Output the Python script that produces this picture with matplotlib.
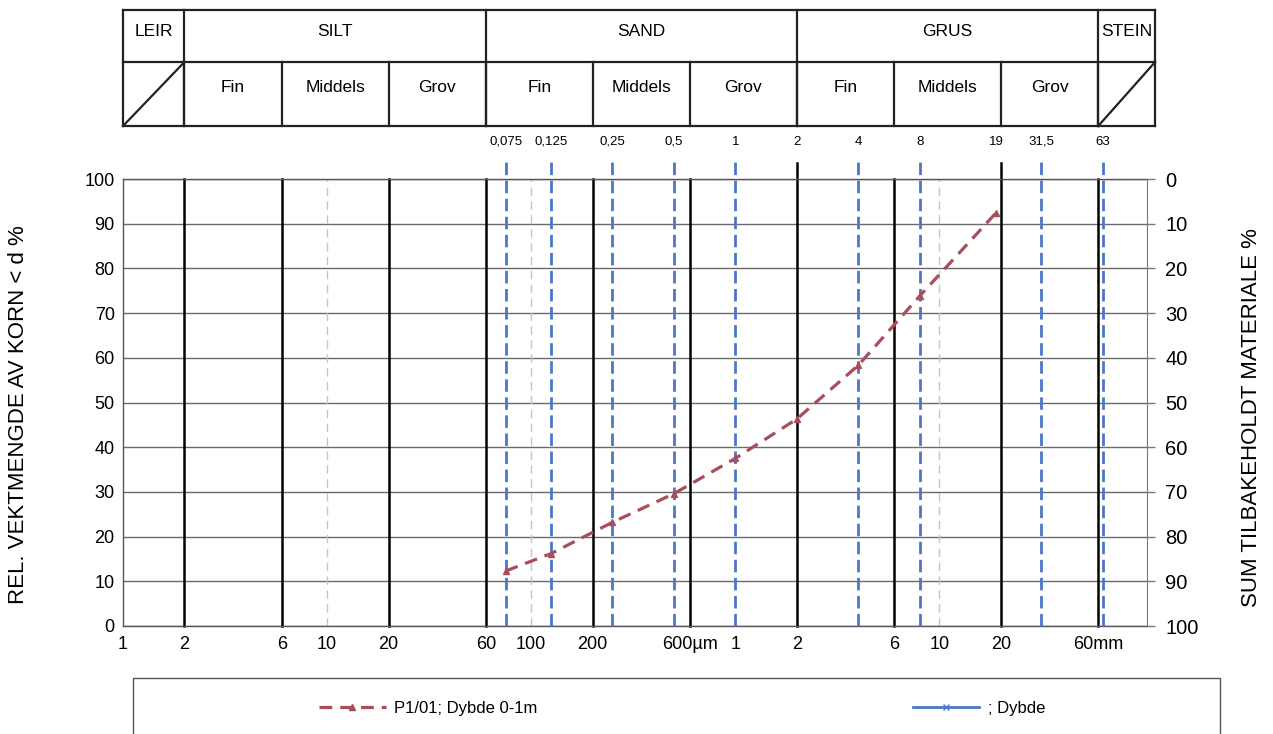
import matplotlib
matplotlib.use('Agg')
import matplotlib.pyplot as plt
from matplotlib.patches import Rectangle
import numpy as np

plt.rcParams['font.family'] = ['Liberation Sans', 'DejaVu Sans']

# sieve sizes in µm and passing percentage for P1/01
sieve_um = [75, 125, 250, 500, 1000, 2000, 4000, 8000, 19000]
passing = [12.3, 16.2, 23.2, 29.6, 37.5, 46.3, 58.3, 73.8, 92.5]

# blue marker lines (sieve sizes) and their top labels
sieve_lines = [75, 125, 250, 500, 1000, 4000, 8000, 31500, 63000]
top_label_pos = [75, 125, 250, 500, 1000, 2000, 4000, 8000, 19000, 31500, 63000]
top_label_txt = ['0,075', '0,125', '0,25', '0,5', '1', '2', '4', '8', '19', '31,5', '63']

# main grid lines
black_lines = [2, 6, 20, 60, 200, 600, 2000, 6000, 20000, 60000]
tall_lines = [2000, 20000]
grey_lines = [10, 100, 10000]

x_ticks = [1, 2, 6, 10, 20, 60, 100, 200, 600, 1000, 2000, 6000, 10000, 20000, 60000]
x_labels = ['1', '2', '6', '10', '20', '60', '100', '200', '600µm',
            '1', '2', '6', '10', '20', '60mm']

# classification table
main_classes = ['LEIR', 'SILT', 'SAND', 'GRUS', 'STEIN']
main_bounds = [1, 2, 60, 2000, 60000, 114000]
sub_classes = ['Fin', 'Middels', 'Grov'] * 3
sub_bounds = [2, 6, 20, 60, 200, 600, 2000, 6000, 20000, 60000]

W, H = 1273, 734
fig = plt.figure(figsize=(W / 100, H / 100), dpi=100)

xl, xr = 123, 1147
ax = fig.add_axes([xl / W, 1 - 626 / H, (xr - xl) / W, (626 - 179) / H])
ax.set_xscale('log')
ax.set_xlim(1, 1.04e5)
ax.set_ylim(0, 100)
ppu = (626 - 179) / 100.0

red = '#A94D5A'
blue = '#4A78C8'

ax.set_yticks(range(0, 101, 10))
ax.yaxis.grid(True, color='#6a6a6a', lw=1)
ax.set_axisbelow(True)
ax.tick_params(axis='y', length=0, labelsize=13, pad=6)
ax.set_xticks(x_ticks)
ax.set_xticklabels(x_labels)
ax.xaxis.set_minor_locator(matplotlib.ticker.NullLocator())
ax.tick_params(axis='x', length=0, labelsize=13, pad=7)
for s in ['left', 'bottom', 'top']:
    ax.spines[s].set_color('#555555')
    ax.spines[s].set_linewidth(1)
ax.spines['right'].set_visible(False)

for x in grey_lines:
    ax.plot([x, x], [0, 100], color='#c4c4c4', lw=1, dashes=(6, 4), zorder=1)
for x in black_lines:
    top = (626 - 163) / ppu if x in tall_lines else 100
    ax.plot([x, x], [0, top], color='black', lw=1.8, zorder=2, clip_on=False)
for x in sieve_lines:
    ax.plot([x, x], [0, (626 - 160) / ppu], color=blue, lw=2, dashes=(4.5, 2),
            zorder=3, clip_on=False)
for x, t in zip(top_label_pos, top_label_txt):
    ax.text(x, (626 - 142) / ppu, t, ha='center', va='center', fontsize=9.5)

ax.plot(sieve_um, passing, color=red, lw=2.3, dashes=(4, 2.5), marker='^', ms=5,
        zorder=4, label='P1/01; Dybde 0-1m')
ax.plot([], [], color=blue, lw=2, marker='x', ms=5, label='; Dybde')

ax.set_ylabel('REL. VEKTMENGDE AV KORN < d %', fontsize=16)
ax.yaxis.set_label_coords((29 - xl) / (xr - xl), (626 - 415) / 447)

ax2 = ax.twinx()
ax2.set_ylim(100, 0)
ax2.set_yticks(range(0, 101, 10))
ax2.tick_params(axis='y', length=6, width=1, color='#777777', labelsize=14.5, pad=7)
for s in ['left', 'bottom', 'top']:
    ax2.spines[s].set_visible(False)
ax2.spines['right'].set_color('#777777')
ax2.set_ylabel('SUM TILBAKEHOLDT MATERIALE %', fontsize=16)
ax2.yaxis.set_label_coords((1241 - xl) / (xr - xl), (626 - 418) / 447)

# classification table above the chart
axt = fig.add_axes([xl / W, 1 - 126 / H, (xr - xl) / W, 116 / H])
axt.set_xscale('log')
axt.set_xlim(1, 1.04e5)
axt.set_ylim(0, 116)
axt.axis('off')
kw = dict(color='#222222', lw=1.6, clip_on=False)
x0, x1 = main_bounds[0], main_bounds[-1]
axt.plot([x0, x1], [116, 116], **kw)
axt.plot([x0, x1], [64, 64], **kw)
axt.plot([x0, x1], [0, 0], **kw)
for b in main_bounds:
    axt.plot([b, b], [0, 116], **kw)
for b in sub_bounds:
    axt.plot([b, b], [0, 64], **kw)
axt.plot([1, 2], [0, 64], **kw)
axt.plot([60000, 114000], [0, 64], **kw)
for i, name in enumerate(main_classes):
    cx = np.sqrt(main_bounds[i] * main_bounds[i + 1])
    axt.text(cx, 94, name, ha='center', va='center', fontsize=12.5)
for i, name in enumerate(sub_classes):
    cx = np.sqrt(sub_bounds[i] * sub_bounds[i + 1])
    axt.text(cx, 38, name, ha='center', va='center', fontsize=12.5)

# legend box
fig.add_artist(Rectangle((133 / W, -0.02), (1220 - 133) / W, 1 - 678 / H + 0.02,
                         transform=fig.transFigure, fill=False, ec='#555555', lw=1))
fig.legend(loc='center', bbox_to_anchor=(682 / W, 1 - 708 / H), ncol=2, frameon=False,
           handlelength=4, handletextpad=0.5, columnspacing=22.5, fontsize=12)

fig.savefig('out.png', dpi=100)
